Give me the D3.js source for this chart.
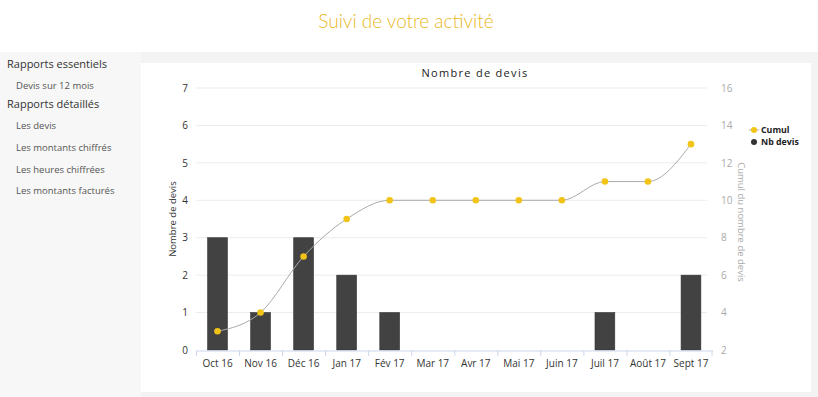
<!DOCTYPE html>
<html><head><meta charset="utf-8">
<script src="https://cdn.jsdelivr.net/npm/d3@7"></script>
<style>
body{margin:0;padding:0;width:818px;height:397px;overflow:hidden;background:#fff;font-family:"Open Sans",Lato,sans-serif;}
</style></head>
<body>
<svg id="c" width="818" height="397"></svg>
<script>
const categories = ["Oct 16","Nov 16","Déc 16","Jan 17","Fév 17","Mar 17","Avr 17","Mai 17","Juin 17","Juil 17","Août 17","Sept 17"];
const nbDevis = [3,1,3,2,1,0,0,0,0,1,0,2];
const cumul = [3,4,7,9,10,10,10,10,10,11,11,13];
const leftTicks = [0,1,2,3,4,5,6,7];
const rightTicks = [2,4,6,8,10,12,14,16];
const menuItems = [
  {t:"Rapports essentiels", lvl:0},
  {t:"Devis sur 12 mois", lvl:1},
  {t:"Rapports détaillés", lvl:0},
  {t:"Les devis", lvl:1},
  {t:"Les montants chiffrés", lvl:1},
  {t:"Les heures chiffrées", lvl:1},
  {t:"Les montants facturés", lvl:1}
];
const menuY = [64,85,104,125,147,169,190];

const svg = d3.select("#c");
// backgrounds
svg.append("rect").attr("x",0).attr("y",52).attr("width",818).attr("height",345).attr("fill","#f3f3f3");
svg.append("rect").attr("x",0).attr("y",52).attr("width",141).attr("height",345).attr("fill","#f7f7f7");
svg.append("rect").attr("x",141).attr("y",63).attr("width",670).attr("height",329).attr("fill","#fff");

svg.append("text").attr("x",406).attr("y",28).attr("text-anchor","middle")
  .attr("font-family","Lato, 'Open Sans', sans-serif").attr("font-weight",300)
  .attr("font-size",19).attr("fill","#e9b824").text("Suivi de votre activité");

menuItems.forEach((m,i)=>{
  svg.append("text").attr("x", m.lvl?16:7).attr("y", menuY[i]+4)
    .attr("font-size", m.lvl?9.5:11).attr("fill", m.lvl?"#555":"#333")
    .text(m.t);
});

const x = d3.scaleBand().domain(categories).range([196,712.5]).paddingInner(0.54).paddingOuter(0.27);
const xb = d3.scaleBand().domain(categories).range([196,712.5]);
const yL = d3.scaleLinear().domain([0,7]).range([350,88]);
const yR = d3.scaleLinear().domain([2,16]).range([350,88]);

// grid
svg.append("g").selectAll("line").data(leftTicks.slice(1)).join("line")
  .attr("x1",196).attr("x2",707).attr("y1",d=>yL(d)).attr("y2",d=>yL(d))
  .attr("stroke","#ececec").attr("stroke-width",1);

// left axis
const gl = svg.append("g").attr("transform","translate(188,0)")
  .call(d3.axisLeft(yL).tickValues(leftTicks).tickFormat(d3.format("d")).tickSize(0).tickPadding(0));
gl.select(".domain").remove();
gl.selectAll("text").attr("font-size",10).attr("fill","#333").attr("font-family","'Open Sans',sans-serif");

// right axis
const gr = svg.append("g").attr("transform","translate(721,0)")
  .call(d3.axisRight(yR).tickValues(rightTicks).tickFormat(d3.format("d")).tickSize(0).tickPadding(0));
gr.select(".domain").remove();
gr.selectAll("text").attr("font-size",10).attr("fill","#aaa").attr("font-family","'Open Sans',sans-serif");

// bars
svg.append("g").selectAll("rect").data(categories).join("rect")
  .attr("x",d=>x(d)).attr("width",x.bandwidth())
  .attr("y",(d,i)=>yL(nbDevis[i])).attr("height",(d,i)=>yL(0)-yL(nbDevis[i]))
  .attr("fill","#424242").attr("stroke","#333").attr("stroke-width",0.6);

// x axis
const gx = svg.append("g").attr("transform","translate(0,350.5)")
  .call(d3.axisBottom(xb).tickSize(0).tickPadding(9));
gx.select(".domain").attr("stroke","#ccd6eb");
gx.selectAll("text").attr("font-size",10).attr("fill","#333").attr("font-family","'Open Sans',sans-serif");
svg.append("g").selectAll("line").data(categories).join("line")
  .attr("x1",d=>xb(d)+0.5).attr("x2",d=>xb(d)+0.5).attr("y1",350.5).attr("y2",356)
  .attr("stroke","#ccd6eb");
svg.append("line").attr("x1",712).attr("x2",712).attr("y1",350.5).attr("y2",356).attr("stroke","#ccd6eb");

// line
const cx = d => xb(d)+xb.bandwidth()/2;
const line = d3.line().x((d,i)=>cx(categories[i])).y(d=>yR(d)).curve(d3.curveMonotoneX);
svg.append("path").datum(cumul).attr("d",line).attr("fill","none").attr("stroke","#aaa").attr("stroke-width",1);
svg.append("g").selectAll("circle").data(cumul).join("circle")
  .attr("cx",(d,i)=>cx(categories[i])).attr("cy",d=>yR(d)).attr("r",3.3).attr("fill","#f2c418");

// titles
svg.append("text").attr("x",475).attr("y",77).attr("text-anchor","middle")
  .attr("font-size",11).attr("letter-spacing","1.3px").attr("fill","#222").text("Nombre de devis");
svg.append("text").attr("transform","translate(176,219) rotate(-90)").attr("text-anchor","middle")
  .attr("font-size",9.5).attr("fill","#333").text("Nombre de devis");
svg.append("text").attr("transform","translate(738,222) rotate(90)").attr("text-anchor","middle")
  .attr("font-size",9.5).attr("fill","#aaa").text("Cumul du nombre de devis");

// legend
const lg = svg.append("g");
lg.append("line").attr("x1",749).attr("x2",759).attr("y1",130).attr("y2",130).attr("stroke","#aaa");
lg.append("circle").attr("cx",754).attr("cy",130).attr("r",3).attr("fill","#f2c418");
lg.append("circle").attr("cx",754).attr("cy",142).attr("r",3).attr("fill","#333");
lg.append("text").attr("x",761).attr("y",133).attr("font-size",8.8).attr("font-weight",700).attr("fill","#222").text("Cumul");
lg.append("text").attr("x",761).attr("y",145).attr("font-size",8.8).attr("font-weight",700).attr("fill","#222").text("Nb devis");
</script>
</body></html>
